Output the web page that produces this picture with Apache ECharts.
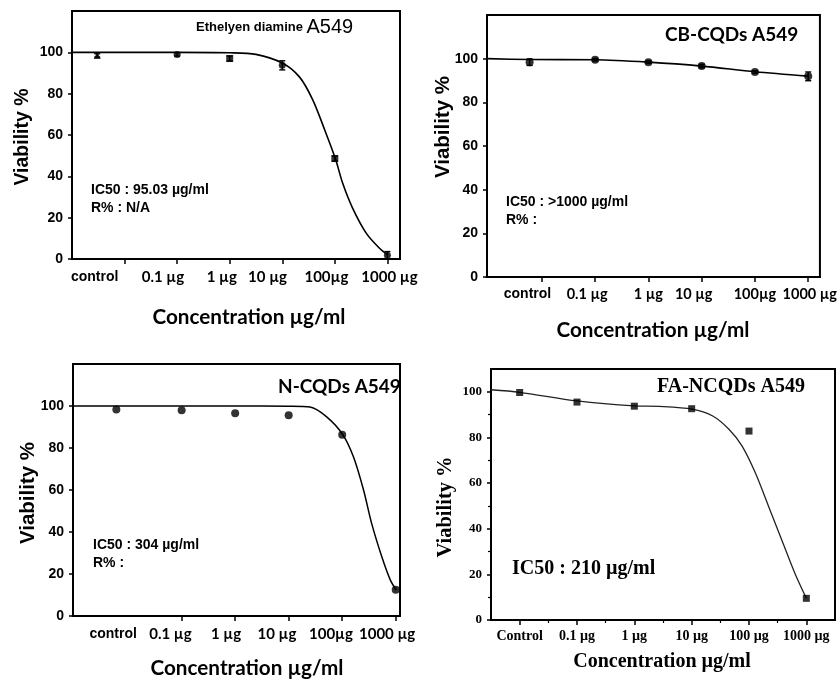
<!DOCTYPE html>
<html>
<head>
<meta charset="utf-8">
<script src="https://cdn.jsdelivr.net/npm/echarts@6/dist/echarts.min.js"></script>
<style>
  html, body { margin: 0; padding: 0; background: #fff; }
  #chart { width: 840px; height: 679px; }
</style>
</head>
<body>
<div id="chart"></div>
<script>
// Cell viability of A549 cells after 24 h exposure.
// x = log10(concentration, µg/ml); the untreated control is plotted left of 0.1 µg.

// --- Ethylenediamine ---
const edDoseX      = [-2.52, -1, 0, 1, 2, 3];
const edViability  = [98.5, 99.0, 97.0, 93.7, 48.6, 1.8];
const edSd         = [0.8, 0.8, 1.2, 2.2, 1.2, 1.8];
const edFitX       = [-3, -1, 0, 0.5, 1, 1.33, 1.58, 1.81, 2.01, 2.15, 2.34, 2.6, 2.85, 3.01];
const edFitY       = [100, 100, 99.8, 99, 94.8, 88, 77, 62.3, 48.6, 36.6, 24.5, 12.4, 5.2, 1.9];

// --- CB-CQDs ---
const cbDoseX      = [-2.23, -1, 0, 1, 2, 3];
const cbViability  = [98.4, 99.5, 98.4, 96.6, 93.9, 91.9];
const cbSd         = [1.5, 0.6, 0.6, 0.8, 0.6, 2.0];
const cbFitX       = [-3.03, -2.23, -1, 0, 1, 2, 3];
const cbFitY       = [100, 99.6, 99.5, 98.4, 96.6, 94.0, 92.0];

// --- N-CQDs ---
const nDoseX       = [-2.22, -1, 0, 1, 2, 3];
const nViability   = [98.3, 98.0, 96.6, 95.6, 86.3, 12.5];
const nFitX        = [-3.03, 0, 1, 1.4, 1.71, 2.01, 2.21, 2.40, 2.55, 2.74, 2.90, 3.01];
const nFitY        = [100, 100, 99.9, 99.5, 94.8, 86.4, 75.8, 59.9, 44.1, 28.2, 17.1, 12.4];

// --- FA-NCQDs ---
const faDoseX      = [-2, -1, 0, 1, 2, 3];
const faViability  = [99.7, 95.5, 93.7, 92.6, 82.8, 9.5];
const faFitX       = [-2.5, -2, -1, 0, 0.43, 1.01, 1.36, 1.65, 1.88, 2.11, 2.34, 2.57, 2.80, 3.0];
const faFitY       = [100.9, 99.8, 96.0, 93.8, 93.6, 92.4, 89.5, 83.6, 76.2, 64.5, 49.9, 35.2, 20.5, 9.5];

// Tick labels
const doseLabels   = ['control', '0.1 µg', '1 µg', '10 µg', '100µg', '1000 µg'];
const doseLabelsFA = ['Control', '0.1 µg', '1 µg', '10 µg', '100 µg', '1000 µg'];
const yTicks       = [0, 20, 40, 60, 80, 100];
const yMinorFA     = [10, 30, 50, 70, 90];
const xMinorFA     = [-1.5, -0.5, 0.5, 1.5, 2.5];

const zip = (a, b) => a.map((v, i) => [v, b[i]]);
const zip3 = (a, b, c) => a.map((v, i) => [v, b[i], c[i]]);

const ARIAL = 'Liberation Sans, Arial, sans-serif';
const SANS2 = 'Lato, Open Sans, sans-serif';
const SERIF = 'Liberation Serif, Times New Roman, serif';

const panels = [
  { grid: { left: 72, top: 11, width: 328, height: 248 }, xMin: -3, xMax: 3.24, yMax: 120,
    ticks: [-2, -1, 0, 1, 2, 3], labelPos: [-2.57, -1.27, -0.15, 0.72, 1.84, 3.04],
    labels: doseLabels, labelMargin: 11, serif: false, uSize: 15 },
  { grid: { left: 487, top: 15, width: 333, height: 262 }, xMin: -3.03, xMax: 3.22, yMax: 120,
    ticks: [-2, -1, 0, 1, 2, 3], labelPos: [-2.27, -1.15, 0, 0.85, 2.0, 3.03],
    labels: doseLabels, labelMargin: 10, serif: false, uSize: 14.5 },
  { grid: { left: 73, top: 364, width: 327, height: 252 }, xMin: -3.03, xMax: 3.08, yMax: 120,
    ticks: [-1, 0, 1, 2, 3], labelPos: [-2.28, -1.21, -0.17, 0.78, 1.79, 2.84],
    labels: doseLabels, labelMargin: 11, serif: false, uSize: 15 },
  { grid: { left: 491, top: 369, width: 344, height: 251 }, xMin: -2.5, xMax: 3.5, yMax: 110,
    ticks: [-2, -1, 0, 1, 2, 3], labelPos: [-2, -1, 0, 1, 2, 3],
    labels: doseLabelsFA, labelMargin: 9, serif: true, uSize: 14 }
];

const grids = panels.map(p => Object.assign({
  show: true, borderColor: '#000', borderWidth: 2, backgroundColor: 'transparent'
}, p.grid));

const xAxes = panels.map((p, i) => ({
  type: 'value', gridIndex: i, min: p.xMin, max: p.xMax,
  axisLine: { show: true, onZero: false, lineStyle: { color: '#000', width: 2 } },
  axisTick: { show: true, customValues: p.ticks, length: 5, lineStyle: { color: '#000', width: 1.5 } },
  splitLine: { show: false },
  axisLabel: {
    show: true, customValues: p.labelPos, margin: p.labelMargin, hideOverlap: false,
    formatter: (v) => {
      const k = p.labelPos.indexOf(v);
      const t = p.labels[k] || '';
      if (p.serif) return '{s|' + t + '}';
      return (k === 0 ? '{c|' : '{u|') + t + '}';
    },
    rich: {
      c: { fontFamily: ARIAL, fontWeight: 'bold', fontSize: 14, color: '#000' },
      u: { fontFamily: SANS2, fontWeight: 'bold', fontSize: p.uSize, color: '#000' },
      s: { fontFamily: SERIF, fontWeight: 'bold', fontSize: 14, color: '#000' }
    }
  }
}));

const yAxes = panels.map((p, i) => ({
  type: 'value', gridIndex: i, min: 0, max: p.yMax,
  axisLine: { show: true, onZero: false, lineStyle: { color: '#000', width: 2 } },
  axisTick: { show: true, customValues: yTicks, length: 4, lineStyle: { color: '#000', width: 1.5 } },
  splitLine: { show: false },
  axisLabel: {
    show: true, customValues: yTicks, margin: 9,
    color: '#000', fontWeight: 'bold',
    fontFamily: p.serif ? SERIF : ARIAL, fontSize: p.serif ? 13 : 14
  }
}));

// minor ticks on the FA-NCQDs axes
xAxes.push({
  type: 'value', gridIndex: 3, min: panels[3].xMin, max: panels[3].xMax, position: 'bottom',
  axisLine: { show: false, onZero: false }, splitLine: { show: false }, axisLabel: { show: false },
  axisTick: { show: true, customValues: xMinorFA, length: 3, lineStyle: { color: '#000', width: 1.2 } }
});
yAxes.push({
  type: 'value', gridIndex: 3, min: 0, max: panels[3].yMax, position: 'left',
  axisLine: { show: false, onZero: false }, splitLine: { show: false }, axisLabel: { show: false },
  axisTick: { show: true, customValues: yMinorFA, length: 3, lineStyle: { color: '#000', width: 1.2 } }
});

function errorBars(idx, data) {
  return {
    type: 'custom', xAxisIndex: idx, yAxisIndex: idx, data: data, z: 4,
    encode: { x: 0, y: 1 },
    renderItem: (params, api) => {
      const x = api.value(0), y = api.value(1), e = api.value(2);
      const top = api.coord([x, y + e]);
      const bot = api.coord([x, y - e]);
      const w = 3;
      const st = { stroke: '#000', lineWidth: 1.4 };
      return {
        type: 'group',
        children: [
          { type: 'line', shape: { x1: top[0], y1: top[1], x2: bot[0], y2: bot[1] }, style: st },
          { type: 'line', shape: { x1: top[0] - w, y1: top[1], x2: top[0] + w, y2: top[1] }, style: st },
          { type: 'line', shape: { x1: bot[0] - w, y1: bot[1], x2: bot[0] + w, y2: bot[1] }, style: st }
        ]
      };
    }
  };
}

function fitLine(idx, xs, ys, width, color) {
  return {
    type: 'line', xAxisIndex: idx, yAxisIndex: idx, data: zip(xs, ys),
    smooth: 0.3, showSymbol: false, symbol: 'none', z: 3,
    lineStyle: { color: color, width: width }, silent: true
  };
}

function points(idx, data, symbol, size) {
  return {
    type: 'scatter', xAxisIndex: idx, yAxisIndex: idx, data: data, z: 5,
    symbol: symbol, symbolSize: size, itemStyle: { color: '#000' }, silent: true
  };
}

const edSymbols = ['triangle', 'circle', 'rect', 'circle', 'rect', 'circle'];

const series = [
  fitLine(0, edFitX, edFitY, 1.6, '#000'),
  errorBars(0, zip3(edDoseX, edViability, edSd)),
  points(0, zip(edDoseX, edViability).map((d, i) => ({ value: d, symbol: edSymbols[i] })), 'circle', 7),

  fitLine(1, cbFitX, cbFitY, 1.6, '#000'),
  errorBars(1, zip3(cbDoseX, cbViability, cbSd)),
  points(1, zip(cbDoseX, cbViability), 'circle', 8),

  fitLine(2, nFitX, nFitY, 1.5, '#000'),
  points(2, zip(nDoseX, nViability), 'circle', 8),

  fitLine(3, faFitX, faFitY, 1.3, '#222'),
  points(3, zip(faDoseX, faViability), 'rect', 7)
];

function txt(x, y, text, font, opts) {
  return Object.assign({
    type: 'text', x: x, y: y, z: 10, silent: true,
    style: Object.assign({ text: text, font: font, fill: '#000', align: 'left', verticalAlign: 'middle' },
      (opts && opts.style) || {})
  }, (opts && opts.el) || {});
}
const vName = (x, y, font) => txt(x, y, 'Viability %', font,
  { style: { align: 'center' }, el: { rotation: Math.PI / 2 } });
const hName = (x, y, font) => txt(x, y, 'Concentration µg/ml', font, { style: { align: 'center' } });

const graphics = [
  // Ethylenediamine
  {
    type: 'text', x: 196, y: 27, z: 10, silent: true,
    style: {
      text: '{a|Ethelyen diamine }{b|A549}', verticalAlign: 'middle', align: 'left',
      rich: {
        a: { font: 'bold 13px ' + ARIAL, fill: '#000' },
        b: { font: '20px ' + ARIAL, fill: '#000' }
      }
    }
  },
  txt(91, 190, 'IC50 : 95.03 µg/ml', 'bold 14px ' + ARIAL),
  txt(91, 208, 'R% : N/A', 'bold 14px ' + ARIAL),
  vName(23, 137, 'bold 19.5px ' + ARIAL),
  hName(249, 317, 'bold 20.7px ' + SANS2),

  // CB-CQDs
  txt(665, 35, 'CB-CQDs A549', 'bold 19px ' + SANS2),
  txt(506, 202, 'IC50 : >1000 µg/ml', 'bold 14px ' + ARIAL),
  txt(506, 220, 'R% :', 'bold 14px ' + ARIAL),
  vName(443, 127, 'bold 20.5px ' + ARIAL),
  hName(653, 330, 'bold 20.7px ' + SANS2),

  // N-CQDs
  txt(278, 387, 'N-CQDs A549', 'bold 19px ' + SANS2),
  txt(93, 545, 'IC50 : 304 µg/ml', 'bold 14px ' + ARIAL),
  txt(93, 563, 'R% :', 'bold 14px ' + ARIAL),
  vName(28, 493, 'bold 20.5px ' + ARIAL),
  hName(247, 668, 'bold 20.7px ' + SANS2),

  // FA-NCQDs
  txt(657, 387, 'FA-NCQDs A549', 'bold 20px ' + SERIF),
  txt(512, 569, 'IC50 : 210 µg/ml', 'bold 20px ' + SERIF),
  vName(446, 507, 'bold 20.5px ' + SERIF),
  hName(662, 662, 'bold 20px ' + SERIF)
];

const chart = echarts.init(document.getElementById('chart'), null, { renderer: 'canvas' });
chart.setOption({
  animation: false,
  backgroundColor: '#fff',
  grid: grids,
  xAxis: xAxes,
  yAxis: yAxes,
  series: series,
  graphic: { elements: graphics }
});
</script>
</body>
</html>
